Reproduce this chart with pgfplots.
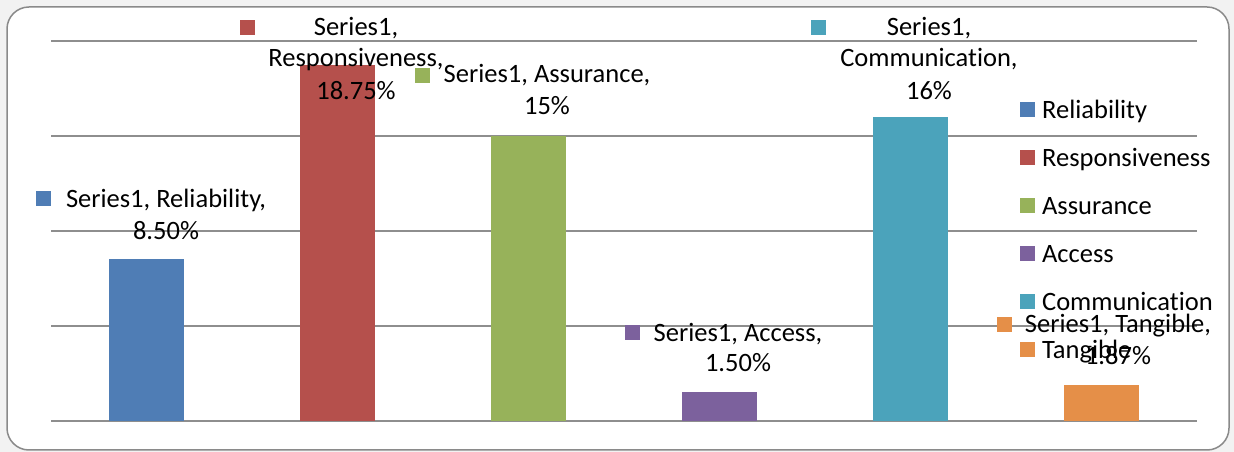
\documentclass[border=0pt]{standalone}
\usepackage{fontspec}
\setmainfont{Carlito}[Ligatures={NoCommon}]
\usepackage{pgfplots}
\pgfplotsset{compat=1.18}
\definecolor{cRel}{HTML}{4F7DB5}
\definecolor{cRes}{HTML}{B5504C}
\definecolor{cAss}{HTML}{97B25A}
\definecolor{cAcc}{HTML}{7C619D}
\definecolor{cCom}{HTML}{4BA3BB}
\definecolor{cTan}{HTML}{E58F48}
\definecolor{gridc}{HTML}{8E8E8E}
\definecolor{frame}{HTML}{8A8A8A}
\definecolor{outbg}{HTML}{F2F2F2}
\newcommand{\lab}[3]{\node[anchor=base,inner sep=0pt] at (#1pt,{452pt-#2pt}) {#3};}
\newcommand{\key}[3]{\node[anchor=north west,inner sep=0pt] at (#1pt,{452pt-#2pt}) {\textcolor{#3}{\rule{14.5pt}{14.5pt}}};}
\begin{document}
\begin{tikzpicture}[font=\fontsize{26.5}{31}\selectfont]
\fill[outbg] (0pt,0pt) rectangle (1234pt,452pt);
\path[use as bounding box] (0pt,0pt) rectangle (1234pt,452pt);
\draw[frame,line width=1.5pt,fill=white,rounded corners=22pt] (7pt,2pt) rectangle (1229pt,445pt);
\begin{axis}[
  at={(51pt,31pt)}, anchor=south west,
  scale only axis, width=1146pt, height=380pt,
  xmin=-0.5, xmax=5.5, ymin=0, ymax=20,
  ytick={0,5,10,15,20}, xtick=\empty, yticklabels={},
  ymajorgrids, major grid style={draw=gridc, line width=2.4pt},
  axis line style={draw=none}, tick style={draw=none},
  ybar, bar width=75pt, clip=false,
  legend image code/.code={\fill[#1,draw=none] (0pt,-5pt) rectangle (15pt,10pt);},
  legend cell align=left,
  legend style={at={(0.8455,0.8447)}, anchor=north west, draw=none, fill=none,
    inner sep=0pt, row sep=24pt, column sep=7pt,
    nodes={inner sep=0pt, text height=18pt, text depth=6pt, font=\fontsize{26.5}{31}\selectfont}},
]
\addplot[fill=cRel, draw=none, bar shift=0pt] coordinates {(0,8.5)};
\addlegendentry{Reliability}
\addplot[fill=cRes, draw=none, bar shift=0pt] coordinates {(1,18.75)};
\addlegendentry{Responsiveness}
\addplot[fill=cAss, draw=none, bar shift=0pt] coordinates {(2,15)};
\addlegendentry{Assurance}
\addplot[fill=cAcc, draw=none, bar shift=0pt] coordinates {(3,1.5)};
\addlegendentry{Access}
\addplot[fill=cCom, draw=none, bar shift=0pt] coordinates {(4,16)};
\addlegendentry{Communication}
\addplot[fill=cTan, draw=none, bar shift=0pt] coordinates {(5,1.87)};
\addlegendentry{Tangible}
\end{axis}
% data labels
\key{36}{191}{cRel}
\lab{166}{208}{Series1, Reliability,}
\lab{166}{240}{8.50\%}
\key{240}{20}{cRes}
\lab{356}{36}{Series1,}
\lab{356}{67}{Responsiveness,}
\lab{356}{100}{18.75\%}
\key{415}{68}{cAss}
\lab{547}{83}{Series1, Assurance,}
\lab{547}{115}{15\%}
\key{625}{325}{cAcc}
\lab{738}{342}{Series1, Access,}
\lab{738}{372}{1.50\%}
\key{811}{20}{cCom}
\lab{929}{36}{Series1,}
\lab{929}{67}{Communication,}
\lab{929}{100}{16\%}
\key{997}{317}{cTan}
\lab{1118}{333}{Series1, Tangible,}
\lab{1118}{365}{1.87\%}
\end{tikzpicture}
\end{document}
